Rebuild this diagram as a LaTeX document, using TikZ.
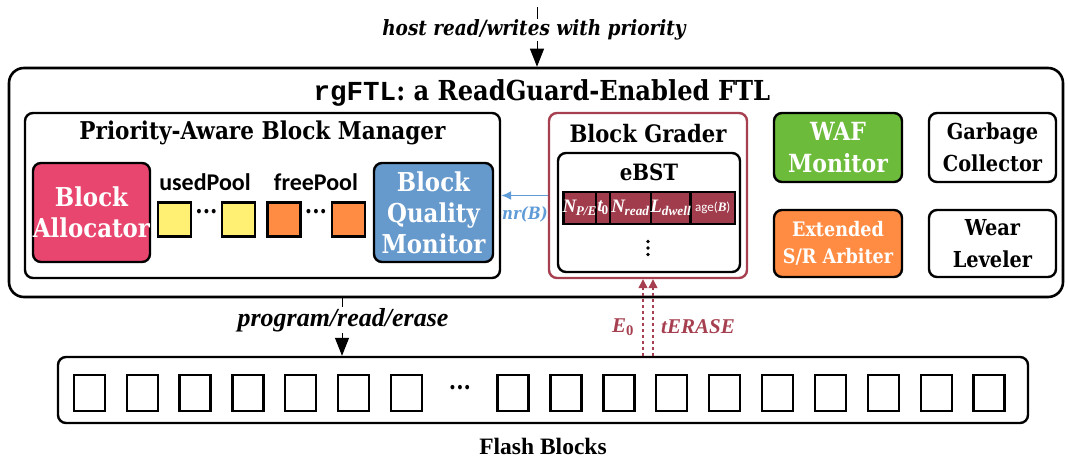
\documentclass[tikz,border=0pt]{standalone}
\usepackage{fontspec}
\setmainfont{DejaVu Serif}[FakeStretch=0.88]
\newfontfamily\lib{Liberation Serif}
\newfontfamily\carl{Carlito}
\newfontfamily\cour{Liberation Mono}
\usetikzlibrary{arrows.meta,calc}
\definecolor{allocpink}{RGB}{232,70,110}
\definecolor{bqmblue}{RGB}{102,153,204}
\definecolor{yellowsq}{RGB}{255,240,115}
\definecolor{orangesq}{RGB}{255,140,66}
\definecolor{wafgreen}{RGB}{108,187,58}
\definecolor{graderred}{RGB}{166,64,80}
\definecolor{cellred}{RGB}{160,60,76}
\definecolor{nrblue}{RGB}{95,155,215}
\tikzset{
  bx/.style={draw, line width=2.4pt, rounded corners=8pt, inner sep=0pt, align=center},
  poolsq/.style={draw, line width=2.4pt, minimum width=33pt, minimum height=34pt, inner sep=0pt},
  flashsq/.style={draw, line width=2.4pt, minimum width=31pt, minimum height=36pt, inner sep=0pt},
  cell/.style={draw, line width=2.2pt, fill=cellred, minimum height=32pt, inner sep=0pt, text=white},
  celltxt/.style={text=white, font=\fontsize{19}{20}\selectfont\bfseries\itshape\lib, inner sep=0pt},
  bigtxt/.style={font=\fontsize{26}{31}\selectfont\bfseries},
  midtxt/.style={font=\fontsize{22}{32}\selectfont\bfseries},
  lbl/.style={font=\fontsize{21}{24}\selectfont\bfseries\itshape, inner sep=1pt},
  dotstxt/.style={font=\fontsize{24}{26}\selectfont\bfseries},
  blacktip/.style={line width=1pt, -{Triangle[width=14pt,length=18pt]}},
}
\begin{document}
\begin{tikzpicture}[x=1pt,y=-1pt]
\useasboundingbox (0,0) rectangle (1068,460);

% outer FTL box
\node[bx, line width=2.6pt, rounded corners=15pt, minimum width=1054pt, minimum height=229pt] (ftl) at (536,182.5) {};
\node[font=\fontsize{27.5}{30}\selectfont\bfseries] (ftltitle) at (542,93) {{\cour rgFTL}: a ReadGuard-Enabled FTL};

% Priority-Aware Block Manager
\node[bx, minimum width=475pt, minimum height=165pt] (pabm) at (262.5,195.5) {};
\node[font=\fontsize{24.5}{28}\selectfont\bfseries] (pabmtitle) at (262.5,133) {Priority-Aware Block Manager};
\node[bx, fill=allocpink, text=white, minimum width=117pt, minimum height=99pt, bigtxt] (alloc) at (91.5,212.5) {Block\\Allocator};
\node[bx, fill=bqmblue, text=white, minimum width=119pt, minimum height=99pt, bigtxt] (bqm) at (433.5,212.5) {Block\\Quality\\Monitor};
\node[font=\fontsize{24}{26}\selectfont\bfseries\carl] (usedlbl) at (205,182) {usedPool};
\node[font=\fontsize{24}{26}\selectfont\bfseries\carl] (freelbl) at (316,182) {freePool};
\node[poolsq, fill=yellowsq] (y1) at (174.5,219.5) {};
\node[poolsq, fill=yellowsq] (y2) at (238.5,219.5) {};
\node[poolsq, fill=orangesq] (o1) at (284,219.5) {};
\node[poolsq, fill=orangesq] (o2) at (348.5,219.5) {};
\node[dotstxt] (ud) at (206.5,212) {...};
\node[dotstxt] (fd) at (316,212) {...};

% Block Grader
\node[bx, draw=graderred, minimum width=198pt, minimum height=165pt] (grader) at (648,195.5) {};
\node[font=\fontsize{24}{28}\selectfont\bfseries] (gradertitle) at (648,134) {Block Grader};
\node[bx, minimum width=182pt, minimum height=119pt] (ebst) at (649,212.5) {};
\node[font=\fontsize{22.5}{26}\selectfont\bfseries] (ebsttitle) at (649,172) {eBST};
\node[cell, minimum width=32.5pt] (c1) at (579.75,208) {};
\node[cell, minimum width=14pt] (c2) at (603,208) {};
\node[cell, minimum width=41pt] (c3) at (630.5,208) {};
\node[cell, minimum width=39.5pt] (c4) at (670.75,208) {};
\node[cell, minimum width=44.5pt] (c5) at (712.75,208) {};
\node[celltxt] (t1) at (c1) {N\kern-0.5pt\textsubscript{P/E}};
\node[celltxt] (t2) at (c2) {t\kern-1pt\textsubscript{\upshape 0}};
\node[celltxt] (t3) at (c3) {N\kern-0.5pt\textsubscript{read}};
\node[celltxt] (t4) at (c4) {L\textsubscript{dwell}};
\node[text=white, font=\fontsize{13}{15}\selectfont\carl, inner sep=0pt] (t5) at (c5) {age({\lib\itshape\bfseries B})};
\node[circle, fill, inner sep=0pt, minimum size=3.6pt] (v1) at (648,241.5) {};
\node[circle, fill, inner sep=0pt, minimum size=3.6pt] (v2) at (648,248) {};
\node[circle, fill, inner sep=0pt, minimum size=3.6pt] (v3) at (648,254.5) {};

% right-hand modules
\node[bx, fill=wafgreen, text=white, minimum width=128pt, minimum height=69pt, font=\fontsize{25}{32}\selectfont\bfseries] (waf) at (838,147.5) {WAF\\Monitor};
\node[bx, minimum width=127pt, minimum height=69pt, midtxt] (gc) at (992.5,147.5) {Garbage\\Collector};
\node[bx, fill=orangesq, text=white, minimum width=128pt, minimum height=67pt, font=\fontsize{20}{27}\selectfont\bfseries] (ext) at (838,243.5) {Extended\\S/R Arbiter};
\node[bx, minimum width=127pt, minimum height=67pt, midtxt] (wl) at (992.5,243.5) {Wear\\Leveler};

% nr(B) arrow
\draw[nrblue, line width=1.6pt, -{Latex[length=10pt,width=9pt]}] (grader.west) -- (pabm.east);
\node[lbl, text=nrblue, font=\fontsize{17}{20}\selectfont\bfseries\itshape] (nrlbl) at (525,214) {nr(B)};

% flash blocks
\node[bx, minimum width=970pt, minimum height=66pt] (flash) at (543,390) {};
\foreach \i in {0,...,6} {
  \node[flashsq] (fl\i) at ({89.5+52.8*\i},393) {};
}
\foreach \i in {0,...,9} {
  \node[flashsq] (fr\i) at ({513+52.9*\i},393) {};
}
\node[dotstxt] (fdots) at (460,388) {...};
\node[font=\fontsize{23.5}{26}\selectfont\bfseries\lib] (flashlbl) at (543,446) {Flash Blocks};

% host arrow
\coordinate (hosttop) at (537,7);
\draw[blacktip] (hosttop) -- (hosttop |- ftl.north);
\node[lbl, fill=white] (hostlbl) at (534,30) {host read/writes with priority};

% program/read/erase arrow
\coordinate (pgm) at (342,0);
\draw[blacktip] (ftl.south -| pgm) -- (flash.north -| pgm);
\node[lbl, fill=white, font=\fontsize{26}{28}\selectfont\bfseries\itshape\lib] (pgmlbl) at (343,320) {program/read/erase};

% E0 / tERASE arrows
\coordinate (gl) at ($(grader.south)+(-5,0)$);
\coordinate (gr) at ($(grader.south)+(5,0)$);
\draw[graderred, line width=1.3pt, dashed, -{Triangle[width=9pt,length=9pt]}] (flash.north -| gl) -- (gl);
\draw[graderred, line width=1.3pt, dashed, -{Triangle[width=9pt,length=9pt]}] (flash.north -| gr) -- (gr);
\node[lbl, text=graderred, font=\fontsize{21}{24}\selectfont\bfseries\itshape\lib] (e0lbl) at (623,327) {E\textsubscript{\upshape 0}};
\node[lbl, text=graderred, font=\fontsize{21}{24}\selectfont\bfseries\itshape\lib] (terlbl) at (698,327) {tERASE};
\end{tikzpicture}
\end{document}
